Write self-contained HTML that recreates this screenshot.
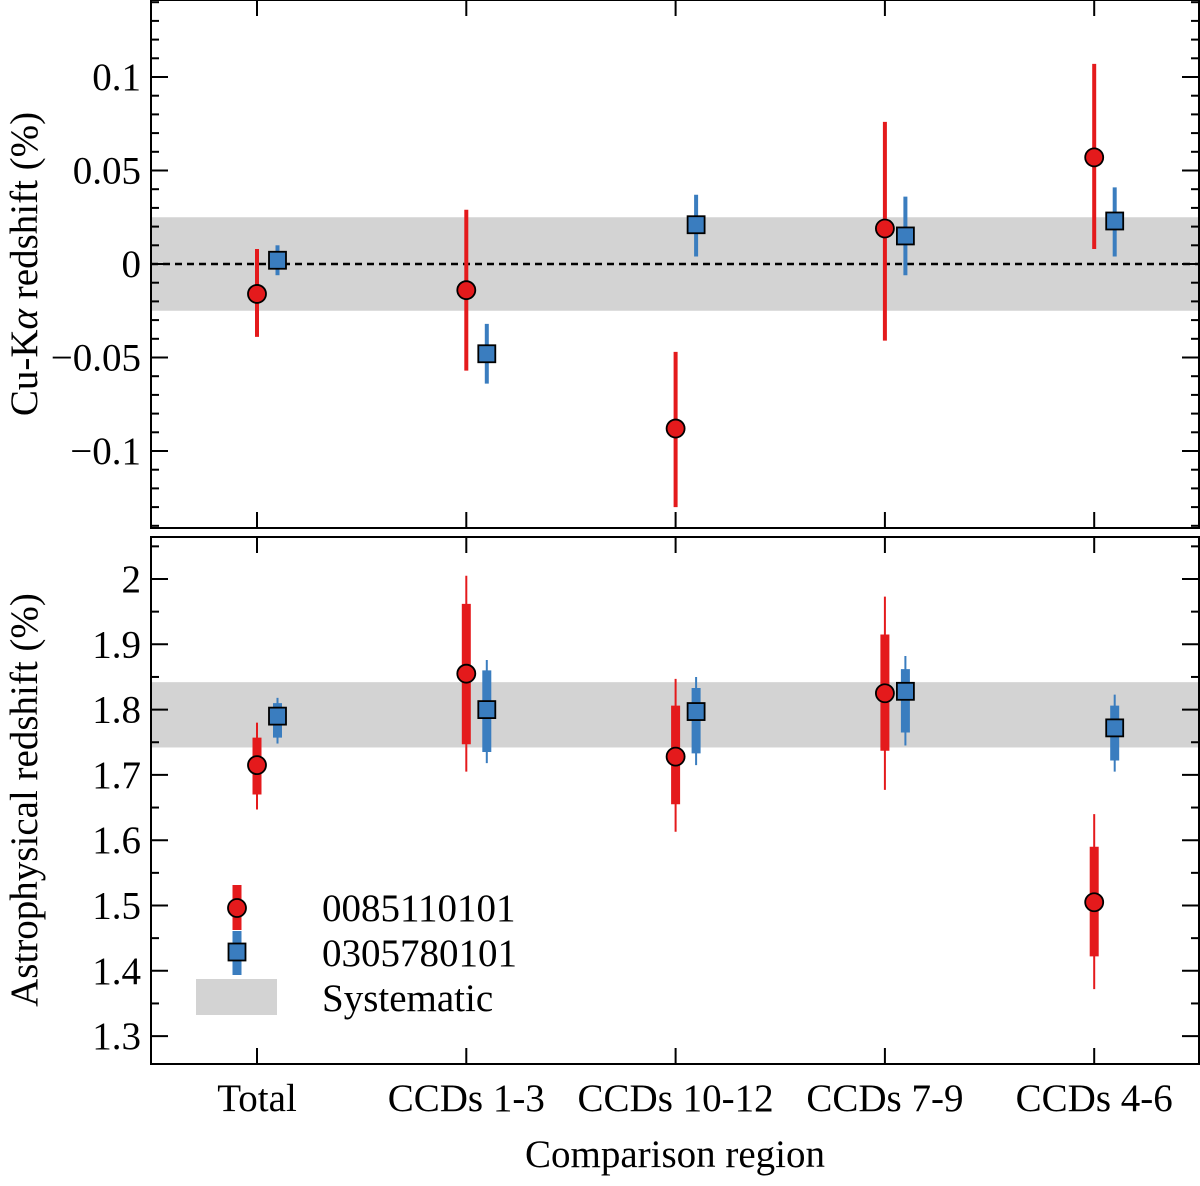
<!DOCTYPE html>
<html><head><meta charset="utf-8"><style>body{margin:0;background:#fff}svg,text{font-family:"Liberation Serif","Times New Roman",serif}</style></head>
<body>
<svg id="c" width="1200" height="1181" xmlns="http://www.w3.org/2000/svg"></svg>
<script>
const categories=["Total","CCDs 1-3","CCDs 10-12","CCDs 7-9","CCDs 4-6"];
const topRed=[-0.016,-0.014,-0.088,0.019,0.057];
const topRedLo=[-0.039,-0.057,-0.130,-0.041,0.008];
const topRedHi=[0.008,0.029,-0.047,0.076,0.107];
const topBlue=[0.002,-0.048,0.021,0.015,0.023];
const topBlueLo=[-0.006,-0.064,0.004,-0.006,0.004];
const topBlueHi=[0.010,-0.032,0.037,0.036,0.041];
const botRed=[1.715,1.855,1.728,1.825,1.505];
const botRedStatLo=[1.670,1.747,1.655,1.737,1.422];
const botRedStatHi=[1.757,1.962,1.806,1.915,1.590];
const botRedTotLo=[1.647,1.705,1.613,1.677,1.372];
const botRedTotHi=[1.780,2.005,1.847,1.973,1.640];
const botBlue=[1.790,1.800,1.797,1.828,1.772];
const botBlueStatLo=[1.757,1.735,1.733,1.765,1.722];
const botBlueStatHi=[1.810,1.860,1.833,1.862,1.806];
const botBlueTotLo=[1.748,1.718,1.715,1.745,1.705];
const botBlueTotHi=[1.818,1.876,1.850,1.882,1.823];
const topTicks=[-0.1,-0.05,0,0.05,0.1];
const topTickLabels=["\u22120.1","\u22120.05","0","0.05","0.1"];
const botTicks=[1.3,1.4,1.5,1.6,1.7,1.8,1.9,2];
const botTickLabels=["1.3","1.4","1.5","1.6","1.7","1.8","1.9","2"];
const topSys=[-0.025,0.025];
const botSys=[1.742,1.842];

const svg=document.getElementById('c');const NS="http://www.w3.org/2000/svg";
function mk(t,a,p,name){const e=document.createElementNS(NS,t);for(const k in a)e.setAttribute(k,a[k]);


(p||svg).appendChild(e);return e;}
const L=151,R=1199,RED="#e41a1c",BLUE="#3a7dbf",FS=39;
const xC=i=>257+i*209.3;
const yT=v=>264-v*1870;
const yB=v=>579+(2-v)*653;
const T0=0,T1=528,B0=537,B1=1064;
mk('rect',{x:L,y:yT(topSys[1]),width:R-L,height:yT(topSys[0])-yT(topSys[1]),fill:"#d3d3d3"},null,'top-systematic-band');
mk('rect',{x:L,y:yB(botSys[1]),width:R-L,height:yB(botSys[0])-yB(botSys[1]),fill:"#d3d3d3"},null,'bottom-systematic-band');
mk('line',{x1:L,x2:R,y1:yT(0),y2:yT(0),stroke:"#000","stroke-width":2.5,"stroke-dasharray":"7,5"},null,'zero-line');
function frame(y0,y1,name){mk('rect',{x:L,y:y0,width:R-L,height:y1-y0,fill:"none",stroke:"#000","stroke-width":2},null,name);}
function yticks(minV,maxV,step,majors,yf,y0,y1,labels,name){
 const g=mk('g',{},null,name);
 for(let v=Math.ceil(minV/step-1e-6)*step;v<=maxV+1e-9;v+=step){
  const y=yf(v);if(y<y0||y>y1)continue;
  const maj=majors.some(m=>Math.abs(m-v)<1e-6);const len=maj?17:8;
  mk('line',{x1:L,x2:L+len,y1:y,y2:y,stroke:"#000","stroke-width":2},g,'y-tick');
  mk('line',{x1:R,x2:R-len,y1:y,y2:y,stroke:"#000","stroke-width":2},g,'y-tick-right');
 }
 majors.forEach((m,i)=>{const t=mk('text',{x:L-10,y:yf(m)+13,"text-anchor":"end","font-size":FS},g,'y-tick-label');t.textContent=labels[i];});
}
yticks(-0.14,0.14,0.01,topTicks,yT,T0,T1,topTickLabels,'top-y-axis');
yticks(1.25,2.05,0.05,botTicks,yB,B0,B1,botTickLabels,'bottom-y-axis');
categories.forEach((c,i)=>{const x=xC(i);
 [[T0,1],[T1,-1],[B0,1],[B1,-1]].forEach(([y,d])=>mk('line',{x1:x,x2:x,y1:y,y2:y+d*16,stroke:"#000","stroke-width":2},null,'x-tick'));
 const t=mk('text',{x:x,y:1111,"text-anchor":"middle","font-size":FS},null,'x-tick-label');t.textContent=c;});
frame(T0,T1,'top-panel-frame');frame(B0,B1,'bottom-panel-frame');
function bar(x,a,b,w,col,name){mk('line',{x1:x,x2:x,y1:a,y2:b,stroke:col,"stroke-width":w},null,name);}
function circ(x,y){mk('circle',{cx:x,cy:y,r:9,fill:RED,stroke:"#000","stroke-width":1.8},null,'red-marker');}
function sq(x,y){mk('rect',{x:x-8.5,y:y-8.5,width:17,height:17,fill:BLUE,stroke:"#000","stroke-width":1.8},null,'blue-marker');}
categories.forEach((c,i)=>{const xr=xC(i),xb=xC(i)+20.5;
 bar(xr,yT(topRedLo[i]),yT(topRedHi[i]),4,RED,'top-red-errorbar');
 bar(xb,yT(topBlueLo[i]),yT(topBlueHi[i]),4,BLUE,'top-blue-errorbar');
 circ(xr,yT(topRed[i]));sq(xb,yT(topBlue[i]));
 bar(xr,yB(botRedTotLo[i]),yB(botRedTotHi[i]),2,RED,'bottom-red-total-error');
 bar(xr,yB(botRedStatLo[i]),yB(botRedStatHi[i]),9,RED,'bottom-red-stat-error');
 bar(xb,yB(botBlueTotLo[i]),yB(botBlueTotHi[i]),2,BLUE,'bottom-blue-total-error');
 bar(xb,yB(botBlueStatLo[i]),yB(botBlueStatHi[i]),9,BLUE,'bottom-blue-stat-error');
 circ(xr,yB(botRed[i]));sq(xb,yB(botBlue[i]));
});
const lg=mk('g',{},null,'legend');
mk('line',{x1:237,x2:237,y1:885,y2:930,stroke:RED,"stroke-width":9},lg,'legend-red-bar');
mk('circle',{cx:237,cy:908,r:9,fill:RED,stroke:"#000","stroke-width":1.8},lg,'legend-red-marker');
mk('line',{x1:237,x2:237,y1:931,y2:975,stroke:BLUE,"stroke-width":9},lg,'legend-blue-bar');
mk('rect',{x:228.5,y:943.5,width:17,height:17,fill:BLUE,stroke:"#000","stroke-width":1.8},lg,'legend-blue-marker');
mk('rect',{x:196,y:979,width:81,height:36,fill:"#d3d3d3"},lg,'legend-systematic-swatch');
[["0085110101",921],["0305780101",966],["Systematic",1011]].forEach(([s,y])=>{const t=mk('text',{x:322,y:y,"font-size":FS},lg,'legend-label');t.textContent=s;});
let t=mk('text',{x:675,y:1167,"text-anchor":"middle","font-size":FS},null,'x-axis-title');t.textContent="Comparison region";
t=mk('text',{transform:"translate(37,264) rotate(-90)","text-anchor":"middle","font-size":FS},null,'top-y-axis-title');t.innerHTML='Cu-K<tspan font-style="italic">α</tspan> redshift (%)';
t=mk('text',{transform:"translate(37,800) rotate(-90)","text-anchor":"middle","font-size":FS},null,'bottom-y-axis-title');t.textContent="Astrophysical redshift (%)";
</script>
</body></html>
